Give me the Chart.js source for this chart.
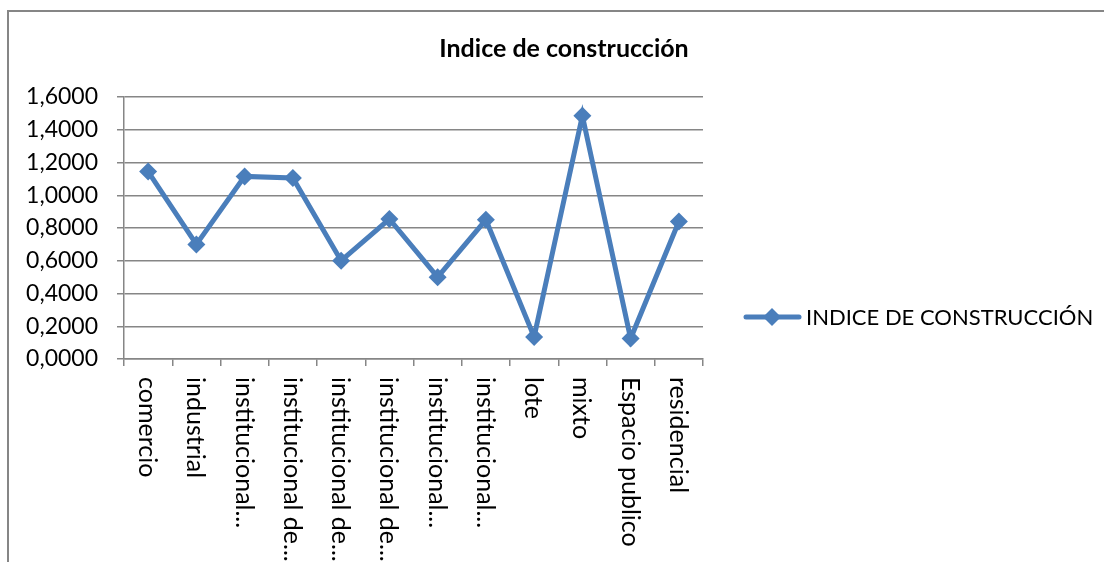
<!DOCTYPE html>
<html><head><meta charset="utf-8">
<script src="https://cdn.jsdelivr.net/npm/chart.js@4.4.1/dist/chart.umd.min.js"></script>
<style>html,body{margin:0;padding:0;background:#fff}#wrap{position:relative;width:1104px;height:562px}</style>
</head><body><div id="wrap"><canvas id="c" width="1104" height="562"></canvas></div>
<script>
const chartTitle = 'Indice de construcción';
const seriesName = 'INDICE DE CONSTRUCCIÓN';
const categories = ['comercio','industrial','institucional...','institucional de...','institucional de...','institucional de...','institucional...','institucional...','lote','mixto','Espacio publico','residencial'];
const values = [1.145, 0.70, 1.115, 1.105, 0.60, 0.855, 0.50, 0.85, 0.135, 1.485, 0.125, 0.84];
const yTicks = [0, 0.2, 0.4, 0.6, 0.8, 1.0, 1.2, 1.4, 1.6];

const BLUE = '#4A7EBB';
const GRID = '#868686';
const FONT = 'Lato';
const FS = 23;

const framePlugin = {
  id: 'frame',
  beforeDraw(chart) {
    const ctx = chart.ctx;
    ctx.save();
    ctx.strokeStyle = GRID; ctx.lineWidth = 2;
    ctx.beginPath();
    ctx.moveTo(8, 562); ctx.lineTo(8, 11); ctx.lineTo(1104, 11);
    ctx.stroke();
    ctx.restore();
  }
};

const xLabelPlugin = {
  id: 'xlabels',
  afterDraw(chart) {
    const ctx = chart.ctx, xs = chart.scales.x;
    ctx.save();
    ctx.fillStyle = '#000';
    ctx.font = '25px ' + FONT;
    ctx.textAlign = 'left'; ctx.textBaseline = 'middle';
    categories.forEach((lab, i) => {
      const x = xs.getPixelForValue(i);
      ctx.save();
      ctx.translate(x - 1, xs.top + 18);
      ctx.rotate(Math.PI / 2);
      ctx.fillText(lab, 0, 0);
      ctx.restore();
    });
    ctx.restore();
  }
};

const legendPlugin = {
  id: 'customLegend',
  afterDraw(chart) {
    const ctx = chart.ctx;
    const ds = chart.data.datasets[0];
    const y = 317;
    ctx.save();
    ctx.strokeStyle = BLUE; ctx.lineWidth = 5; ctx.lineCap = 'round';
    ctx.beginPath(); ctx.moveTo(746, y); ctx.lineTo(799, y); ctx.stroke();
    ctx.fillStyle = BLUE;
    ctx.beginPath(); ctx.moveTo(772, y - 9); ctx.lineTo(781, y); ctx.lineTo(772, y + 9); ctx.lineTo(763, y); ctx.closePath(); ctx.fill();
    ctx.fillStyle = '#000';
    ctx.font = '22px ' + FONT;
    ctx.textAlign = 'left'; ctx.textBaseline = 'middle';
    ctx.fillText(ds.label, 806, y + 1);
    ctx.restore();
  }
};

new Chart(document.getElementById('c'), {
  type: 'line',
  data: {
    labels: categories,
    datasets: [{
      label: seriesName,
      data: values,
      borderColor: BLUE,
      backgroundColor: BLUE,
      borderWidth: 5,
      pointStyle: 'rectRot',
      pointRadius: 9,
      pointBorderWidth: 0,
      pointBackgroundColor: BLUE,
      tension: 0,
      fill: false
    }]
  },
  options: {
    responsive: false,
    animation: false,
    devicePixelRatio: 1,
    layout: { padding: { left: 24, right: 0, top: 11, bottom: 0 } },
    plugins: {
      legend: { display: false },
      tooltip: { enabled: false },
      title: {
        display: true,
        text: chartTitle,
        color: '#000',
        font: { family: FONT, size: 25, weight: 'bold', lineHeight: 1.2 },
        padding: { top: 23, bottom: 33 }
      }
    },
    scales: {
      x: {
        type: 'category',
        offset: true,
        grid: { offset: true, drawOnChartArea: false, drawTicks: true, tickLength: 7, color: GRID, lineWidth: 1.5 },
        border: { display: true, color: GRID, width: 1.5 },
        ticks: { display: false },
        afterFit(s) { s.height = 562 - 359; }
      },
      y: {
        type: 'linear',
        min: 0, max: 1.6,
        afterBuildTicks(s) { s.ticks = yTicks.map(v => ({ value: v })); },
        grid: { color: GRID, lineWidth: 1.5, tickLength: 7 },
        border: { display: true, color: GRID, width: 1.5 },
        ticks: {
          color: '#000',
          font: { family: FONT, size: FS },
          padding: 19,
          callback: v => v.toFixed(4).replace('.', ',')
        },
        afterFit(s) { s.width = 124 - 24; }
      },
      yR: {
        type: 'linear',
        position: 'right',
        display: true,
        grid: { display: false },
        border: { display: false },
        ticks: { display: false },
        afterFit(s) { s.width = 1104 - 703; }
      }
    }
  },
  plugins: [framePlugin, xLabelPlugin, legendPlugin]
});
</script>
</body></html>
